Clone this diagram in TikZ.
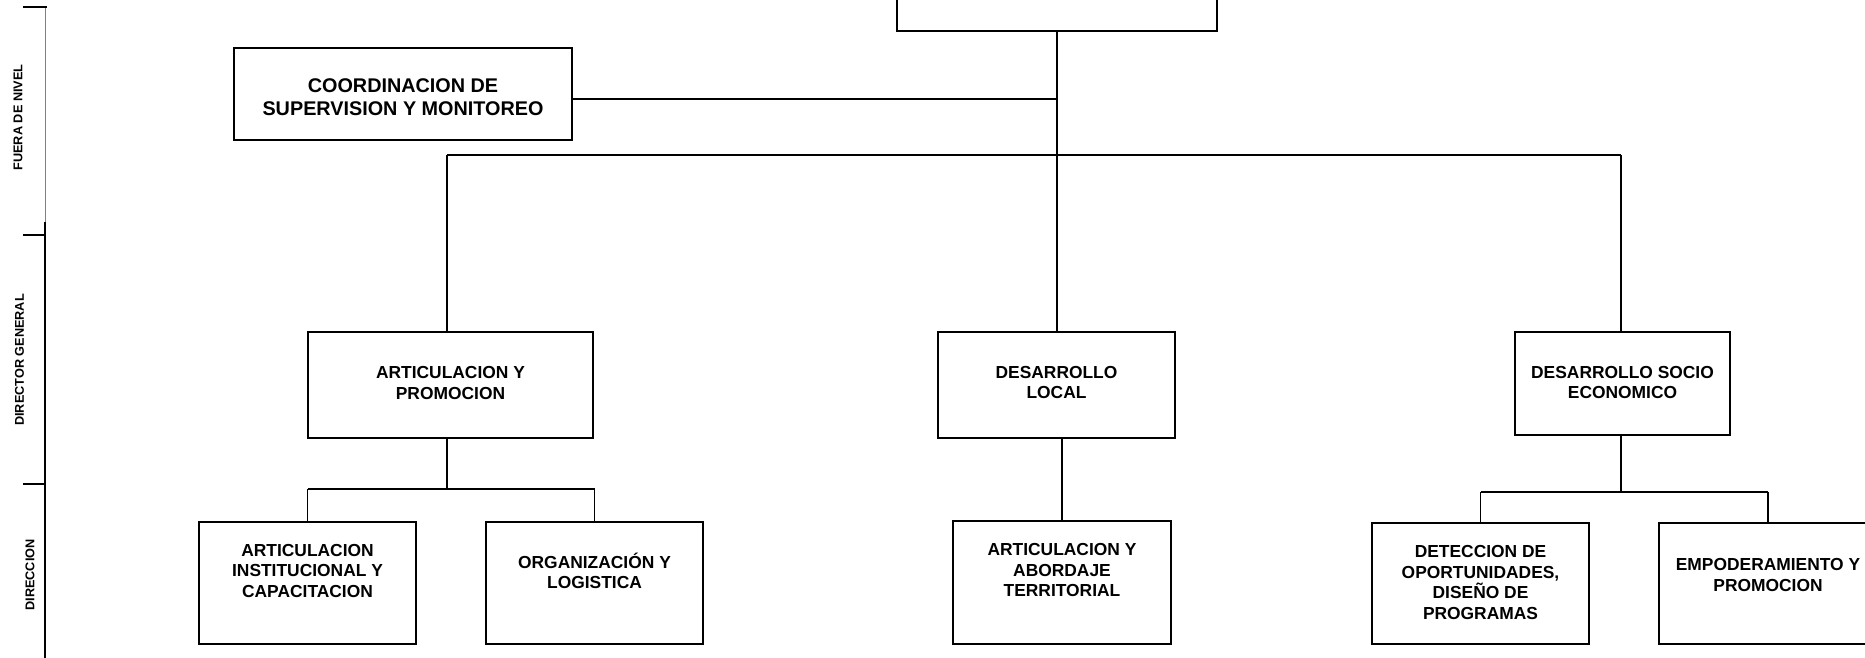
\documentclass[tikz,border=0pt]{standalone}
\usepackage{fontspec}
\setmainfont{Liberation Sans}[UprightFont={* Bold}, BoldFont={* Bold}]
\usetikzlibrary{calc}
\tikzset{
  orgbox/.style={draw=black, line width=1.8pt, rectangle, inner sep=0pt},
  topbox/.style={orgbox, line width=2.8pt},
  orgtxt/.style={align=center, inner sep=0pt, font=\fontsize{17.4}{20.5}\selectfont},
  bigtxt/.style={orgtxt, font=\fontsize{19.8}{22.7}\selectfont},
  rultxt/.style={rotate=90, inner sep=0pt, font=\fontsize{12.7}{14}\selectfont},
  conn/.style={draw=black, line width=1.8pt},
  tick/.style={draw=black, line width=2.5pt}
}
\begin{document}
\begin{tikzpicture}[x=1pt, y=-1pt]
\useasboundingbox (0,0) rectangle (1865,658);
\clip (0,0) rectangle (1865,658);
% ruler
\draw[draw=gray, line width=1.2pt] (45.7,7) -- (45.7,222);
\draw[draw=black, line width=2pt] (45,222) -- (45,658);
\draw[tick] (23,7) -- (46.5,7);
\draw[tick] (23,235) -- (45,235);
\draw[tick] (23,484) -- (45,484);
\node[rultxt] (r1) at (18,117.5) {FUERA DE NIVEL};
\node[rultxt] (r2) at (19.5,360) {DIRECTOR GENERAL};
\node[rultxt] (r3) at (30,575) {DIRECCION};
% boxes
\node[topbox, minimum width=320, minimum height=62] (top) at (1057,0) {};
\node[orgbox, minimum width=338, minimum height=92] (coord) at (403,94) {};
\node[bigtxt] (coordt) at (403,97) {COORDINACION DE\\SUPERVISION Y MONITOREO};
\node[orgbox, minimum width=285, minimum height=106] (ap) at (450.5,385) {};
\node[orgtxt] (apt) at (450.5,383) {ARTICULACION Y\\PROMOCION};
\node[orgbox, minimum width=237, minimum height=106] (dl) at (1056.5,385) {};
\node[orgtxt] (dlt) at (1056.5,382.5) {DESARROLLO\\LOCAL};
\node[orgbox, minimum width=215, minimum height=103] (dse) at (1622.5,383.5) {};
\node[orgtxt] (dset) at (1622.5,382.5) {DESARROLLO SOCIO\\ECONOMICO};
\node[orgbox, minimum width=217, minimum height=122] (ai) at (307.5,583) {};
\node[orgtxt] (ait) at (307.5,571) {ARTICULACION\\INSTITUCIONAL Y\\CAPACITACION};
\node[orgbox, minimum width=217, minimum height=122] (ol) at (594.5,583) {};
\node[orgtxt] (olt) at (594.5,571) {ORGANIZACIÓN Y\\LOGISTICA};
\node[orgbox, minimum width=218, minimum height=123] (at) at (1062,582.5) {};
\node[orgtxt] (att) at (1062,570.5) {ARTICULACION Y\\ABORDAJE\\TERRITORIAL};
\node[orgbox, minimum width=217, minimum height=121] (det) at (1480.5,583.5) {};
\node[orgtxt] (dett) at (1480.5,582.5) {DETECCION DE\\OPORTUNIDADES,\\DISEÑO DE\\PROGRAMAS};
\node[orgbox, minimum width=218, minimum height=121] (emp) at (1768,583.5) {};
\node[orgtxt] (empt) at (1768,575) {EMPODERAMIENTO Y\\PROMOCION};
% junction coordinates
\coordinate (j1) at (1057,99);
\coordinate (busL) at (447,155);
\coordinate (busR) at (1621,155);
\coordinate (sbA) at (447,489);
\coordinate (sbD) at (1621,492);
% connectors
\draw[conn] (top.south) -- (top.south |- dl.north);
\draw[conn] (coord.east |- j1) -- (j1);
\draw[conn] (busL) -- (busR);
\draw[conn] (busL) -- (busL |- ap.north);
\draw[conn] (busR) -- (busR |- dse.north);
\draw[conn] (sbA |- ap.south) -- (sbA);
\draw[conn] (ai.north |- sbA) -- (ol.north |- sbA);
\draw[conn] (ai.north |- sbA) -- (ai.north);
\draw[conn] (ol.north |- sbA) -- (ol.north);
\draw[conn] (at.north |- dl.south) -- (at.north);
\draw[conn] (sbD |- dse.south) -- (sbD);
\draw[conn] (det.north |- sbD) -- (emp.north |- sbD);
\draw[conn] (det.north |- sbD) -- (det.north);
\draw[conn] (emp.north |- sbD) -- (emp.north);
\end{tikzpicture}
\end{document}
